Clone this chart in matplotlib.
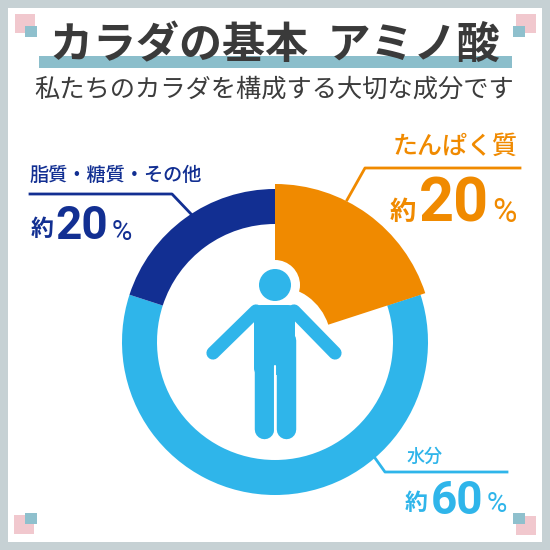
import matplotlib
matplotlib.use("Agg")
import matplotlib.pyplot as plt
from matplotlib.patches import Circle, Rectangle, Wedge, FancyBboxPatch
from matplotlib.lines import Line2D

plt.rcParams['font.family'] = ['Noto Sans CJK JP', 'DejaVu Sans']

# shares, clockwise from 12 o'clock
parts = ["たんぱく質", "水分", "脂質・糖質・その他"]
shares = [20, 60, 20]
part_colors = ["#f08a00", "#2fb5ea", "#122f92"]

title = "カラダの基本  アミノ酸"
subtitle = "私たちのカラダを構成する大切な成分です"

fig = plt.figure(figsize=(5.5, 5.5), dpi=100, facecolor="#c6d1d4")
ax = fig.add_axes([0, 0, 1, 1])
ax.set_xlim(0, 550)
ax.set_ylim(550, 0)
ax.set_aspect("equal")
ax.axis("off")

# white card inside the grey frame
ax.add_patch(Rectangle((8, 8), 534, 534, fc="white", ec="none"))

# corner squares
pink = "#f1c8ce"
teal = "#8fc0cd"
for px, py, tx, ty in [(15, 14, 25, 26), (516, 14, 513, 26),
                       (14, 515, 25, 513), (516, 516, 513, 513)]:
    ax.add_patch(Rectangle((px, py), 20, 19, fc=pink, ec="none"))
    ax.add_patch(Rectangle((tx, ty), 12, 11, fc=teal, ec="none"))

# title band
ax.add_patch(Rectangle((39, 56), 473, 12, fc="#8bbecb", ec="none"))
ax.text(275, 45, title, ha="center", va="center", fontsize=31, fontweight="bold", color="#3a3a3a")
ax.text(274, 90, subtitle, ha="center", va="center", fontsize=18.2, color="#3c3c3c")

# ring
cx, cy = 275, 342
R = 153
ring = 35
start = -90
for share, col in zip(shares, part_colors):
    sweep = share * 360 / sum(shares)
    # y axis is flipped, so growing angles run clockwise on the picture
    ax.add_patch(Wedge((cx, cy), R, start, start + sweep, width=ring, fc=col, ec="none", zorder=1))
    start += sweep

# the orange part is pulled out: bigger and reaching in towards the head
ax.add_patch(Wedge((cx, cy), 158, -90, -90 + shares[0] * 360 / sum(shares), width=102, fc=part_colors[0], ec="none", zorder=2))

# white halo round the head and the right arm
ax.add_patch(Circle((275, 285), 25, fc="white", ec="none", zorder=3))
ax.add_line(Line2D([283, 335], [300, 353], color="white", lw=17, solid_capstyle="round", zorder=3))

# person
blue = part_colors[1]
ax.add_patch(Circle((275, 285), 16, fc=blue, ec="none", zorder=4))
ax.add_line(Line2D([256, 213], [311, 353], color=blue, lw=9.5, solid_capstyle="round", zorder=4))
ax.add_line(Line2D([294, 335], [311, 353], color=blue, lw=9.5, solid_capstyle="round", zorder=4))
ax.add_patch(FancyBboxPatch((254, 305), 41, 70, boxstyle="round,pad=0,rounding_size=7", fc=blue, ec="none", zorder=4))
ax.add_line(Line2D([264, 264], [340, 429], color=blue, lw=14, solid_capstyle="round", zorder=4))
ax.add_line(Line2D([285.5, 285.5], [340, 429], color=blue, lw=14, solid_capstyle="round", zorder=4))
ax.add_line(Line2D([275, 275], [366, 442], color="white", lw=1.5, solid_capstyle="round", zorder=5))

num_font = ['Roboto', 'DejaVu Sans']

# orange label
orange = part_colors[0]
ax.add_line(Line2D([347, 365, 520], [200, 168, 168], color=orange, lw=2))
ax.text(518, 147, parts[0], ha="right", va="center", fontsize=18, fontweight="medium", color=orange)
ax.text(403, 213, "約", ha="center", va="center", fontsize=19, fontweight="bold", color=orange)
ax.text(454, 204, "20", ha="center", va="center", fontsize=44, fontweight="bold", color=orange, family=num_font)
ax.text(505, 213, "%", ha="center", va="center", fontsize=24, color=orange, family=num_font)

# navy label
navy = part_colors[2]
ax.add_line(Line2D([30, 172, 192], [194, 194, 215], color=navy, lw=2))
ax.text(116, 175, parts[2], ha="center", va="center", fontsize=13.8, fontweight="medium", color=navy)
ax.text(42, 230, "約", ha="center", va="center", fontsize=16.5, fontweight="bold", color=navy)
ax.text(82, 226, "20", ha="center", va="center", fontsize=33, fontweight="bold", color=navy, family=num_font)
ax.text(122, 232, "%", ha="center", va="center", fontsize=20, color=navy, family=num_font)

# light blue label
ax.add_line(Line2D([375, 385, 507], [458, 472, 472], color=blue, lw=2))
ax.text(425, 457, parts[1], ha="center", va="center", fontsize=13, fontweight="medium", color=blue)
ax.text(416, 504, "約", ha="center", va="center", fontsize=16.5, fontweight="bold", color=blue)
ax.text(457, 500.5, "60", ha="center", va="center", fontsize=33, fontweight="bold", color=blue, family=num_font)
ax.text(497, 504, "%", ha="center", va="center", fontsize=20, color=blue, family=num_font)

fig.savefig("out.png", dpi=100, facecolor=fig.get_facecolor())
